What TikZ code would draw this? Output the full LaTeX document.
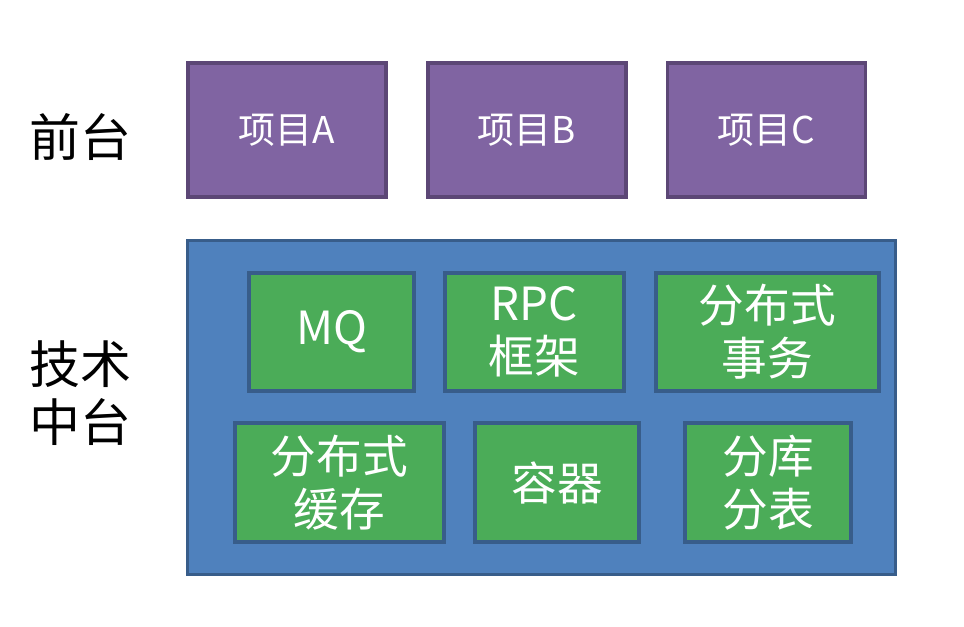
\documentclass[tikz,border=0pt]{standalone}
\usepackage{fontspec}
\setmainfont{Noto Sans CJK SC}
\newfontfamily\cjk{Noto Sans CJK SC}
\usetikzlibrary{positioning}
\definecolor{ProjPurple}{RGB}{128,100,162}
\definecolor{ProjEdge}{RGB}{92,71,118}
\definecolor{PlatBlue}{RGB}{79,129,189}
\definecolor{PlatEdge}{RGB}{56,93,138}
\definecolor{ModGreen}{RGB}{75,172,88}

\begin{document}
\begin{tikzpicture}[x=0.02cm,y=-0.02cm,
    projbox/.style={draw=ProjEdge,line width=2.2pt,fill=ProjPurple,text=white,
      minimum width=3.96cm,minimum height=2.68cm,font=\cjk\fontsize{21}{25}\selectfont},
    modbox/.style={draw=PlatEdge,line width=2.2pt,fill=ModGreen,text=white,
      minimum height=2.36cm,align=center,font=\cjk\fontsize{26}{30}\selectfont},
    sidelabel/.style={align=center,font=\cjk\fontsize{29}{33}\selectfont}]
  \useasboundingbox (0,0) rectangle (964,626);
  % front desk
  \node[sidelabel] (front) at (80,137) {前台};
  \node[projbox] (prjA) at (287,130) {项目A};
  \node[projbox] (prjB) at (527,130) {项目B};
  \node[projbox] (prjC) at (766.5,130) {项目C};
  % technology platform
  \node[sidelabel] (tech) at (80,393) {技术\\中台};
  \node[draw=PlatEdge,line width=1.8pt,fill=PlatBlue,
    minimum width=14.16cm,minimum height=6.68cm] (platform) at (541.5,407.5) {};
  \node[modbox,minimum width=3.3cm] (mq) at (331.5,332) {MQ};
  \node[modbox,minimum width=3.58cm] (rpc) at (534.5,332) {RPC\\框架};
  \node[modbox,minimum width=4.46cm] (trans) at (767.5,332) {分布式\\事务};
  \node[modbox,minimum width=4.18cm,minimum height=2.38cm] (cache) at (339.5,482.5) {分布式\\缓存};
  \node[modbox,minimum width=3.28cm,minimum height=2.38cm] (container) at (557,482.5) {容器};
  \node[modbox,minimum width=3.32cm,minimum height=2.38cm] (shard) at (768,482.5) {分库\\分表};
\end{tikzpicture}
\end{document}
